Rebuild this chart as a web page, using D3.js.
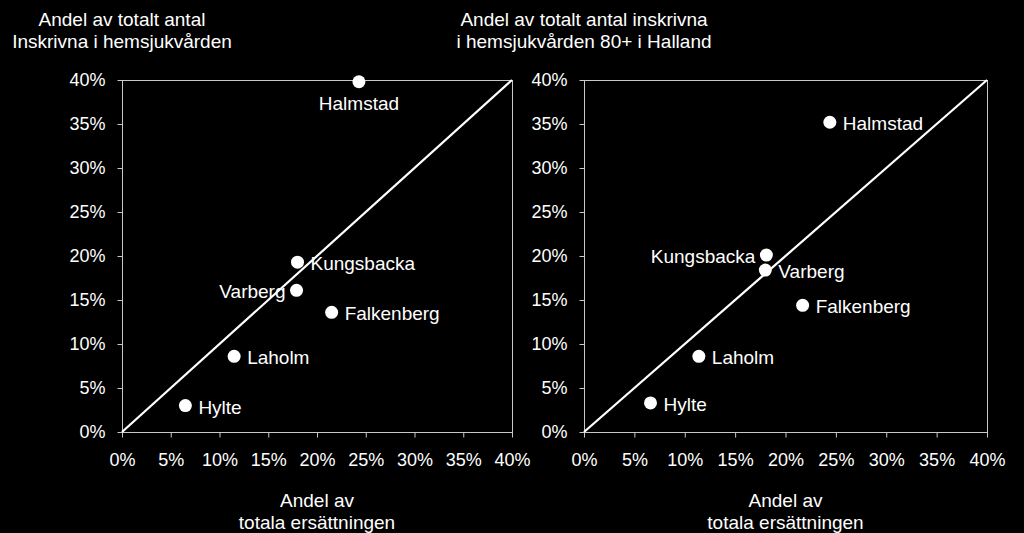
<!DOCTYPE html>
<html>
<head>
<meta charset="utf-8">
<script src="https://cdn.jsdelivr.net/npm/d3@7"></script>
<style>
  html, body { margin: 0; padding: 0; background: #000; }
  svg { display: block; font-family: "Liberation Sans", Arial, sans-serif; }
  .frame { fill: none; stroke: #c8c8c8; stroke-width: 1; }
  .axis path, .axis line { stroke: #c8c8c8; }
  .axis text { fill: #fff; font-size: 18px; }
  .title, .xlabel, .plabel { fill: #fff; font-size: 19px; }
</style>
</head>
<body>
<svg id="chart" width="1024" height="533"></svg>
<script>
// Kommuner och värden (andel, %)
const kommuner = ['Halmstad', 'Kungsbacka', 'Varberg', 'Falkenberg', 'Laholm', 'Hylte'];

// vänster: andel av totala ersättningen vs andel inskrivna
const leftX = [24.3, 18.0, 17.9, 21.5, 11.5, 6.5];
const leftY = [39.8, 19.3, 16.1, 13.6, 8.6, 3.0];
// höger: andel av totala ersättningen vs andel inskrivna 80+
const rightX = [24.4, 18.1, 18.0, 21.7, 11.4, 6.6];
const rightY = [35.2, 20.1, 18.4, 14.4, 8.6, 3.3];

// label placement per point: 'r' right, 'l' left, 'b' below
const leftPos = ['b', 'r', 'l', 'r', 'r', 'r'];
const rightPos = ['r', 'l', 'r', 'r', 'r', 'r'];

const ticks = [0, 5, 10, 15, 20, 25, 30, 35, 40];
const leftTitle = ['Andel av totalt antal', 'Inskrivna i hemsjukvården'];
const rightTitle = ['Andel av totalt antal inskrivna', 'i hemsjukvården 80+ i Halland'];
const xTitle = ['Andel av', 'totala ersättningen'];

const svg = d3.select('#chart');

function drawPanel(opts) {
  const { left, right, top, bottom, xs, ys, pos, title } = opts;
  const x = d3.scaleLinear().domain([0, 40]).range([left, right]);
  const y = d3.scaleLinear().domain([0, 40]).range([bottom, top]);
  const g = svg.append('g');

  // frame
  g.append('rect').attr('class', 'frame')
    .attr('x', left + 0.5).attr('y', top + 0.5)
    .attr('width', right - left).attr('height', bottom - top);

  const yAxis = d3.axisLeft(y).tickValues(ticks).tickFormat(d => d + '%')
    .tickSize(5).tickPadding(12).tickSizeOuter(0);
  g.append('g').attr('class', 'axis')
    .attr('transform', `translate(${left + 0.5},0)`)
    .call(yAxis)
    .call(s => s.select('.domain').remove());

  const xAxis = d3.axisBottom(x).tickValues(ticks).tickFormat(d => d + '%')
    .tickSize(5).tickPadding(16).tickSizeOuter(0);
  g.append('g').attr('class', 'axis')
    .attr('transform', `translate(0,${bottom + 0.5})`)
    .call(xAxis)
    .call(s => s.select('.domain').remove());

  // diagonal
  g.append('line')
    .attr('x1', x(0)).attr('y1', y(0))
    .attr('x2', x(40)).attr('y2', y(40))
    .attr('stroke', '#fff').attr('stroke-width', 2.2);

  const pts = kommuner.map((k, i) => ({ name: k, x: xs[i], y: ys[i], pos: pos[i] }));

  g.selectAll('circle').data(pts).join('circle')
    .attr('cx', d => x(d.x)).attr('cy', d => y(d.y))
    .attr('r', 6.5).attr('fill', '#fff');

  g.selectAll('.plabel').data(pts).join('text')
    .attr('class', 'plabel')
    .attr('x', d => d.pos === 'r' ? x(d.x) + 13 : d.pos === 'l' ? x(d.x) - 11 : x(d.x))
    .attr('y', d => d.pos === 'b' ? y(d.y) + 28 : y(d.y) + 8)
    .attr('text-anchor', d => d.pos === 'r' ? 'start' : d.pos === 'l' ? 'end' : 'middle')
    .text(d => d.name);

  // titles
  g.append('text').attr('class', 'title')
    .attr('x', left).attr('y', 26).attr('text-anchor', 'middle')
    .selectAll('tspan').data(title).join('tspan')
    .attr('x', left).attr('dy', (d, i) => i ? 22 : 0).text(d => d);

  g.append('text').attr('class', 'xlabel')
    .attr('x', (left + right) / 2).attr('y', 507).attr('text-anchor', 'middle')
    .selectAll('tspan').data(xTitle).join('tspan')
    .attr('x', (left + right) / 2).attr('dy', (d, i) => i ? 22 : 0).text(d => d);
}

drawPanel({ left: 122, right: 512, top: 80, bottom: 432, xs: leftX, ys: leftY, pos: leftPos, title: leftTitle });
drawPanel({ left: 584, right: 987, top: 80, bottom: 432, xs: rightX, ys: rightY, pos: rightPos, title: rightTitle });
</script>
</body>
</html>
